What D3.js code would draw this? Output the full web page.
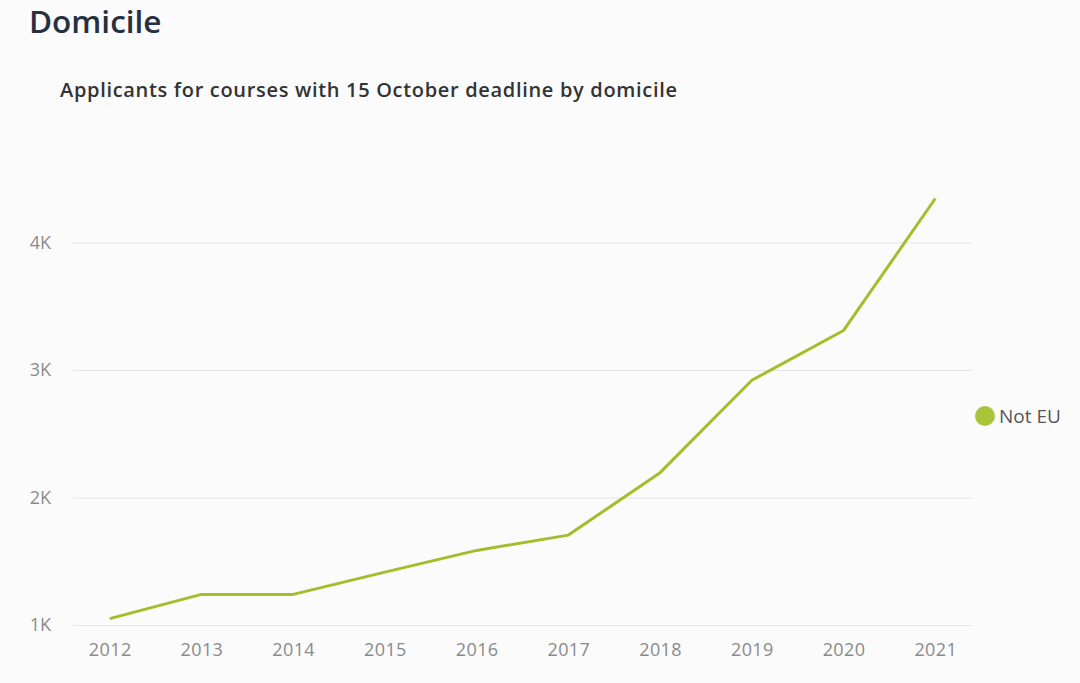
<!DOCTYPE html>
<html><head><meta charset="utf-8">
<script src="https://cdn.jsdelivr.net/npm/d3@7"></script>
<style>
html,body{margin:0;padding:0;background:#fbfbfc;}
svg{display:block;}
</style></head>
<body>
<svg id="chart" width="1080" height="683"></svg>
<script>
const years = [2012,2013,2014,2015,2016,2017,2018,2019,2020,2021];
const notEU = [1050,1240,1240,1415,1585,1705,2195,2920,3310,4345];
const yTicks = [1000,2000,3000,4000];
const seriesName = "Not EU";
const title = "Domicile";
const subtitle = "Applicants for courses with 15 October deadline by domicile";

const FONT = "'Open Sans', 'Noto Sans', sans-serif";
const svg = d3.select("#chart");
svg.append("rect").attr("width",1080).attr("height",683).attr("fill","#fbfbfc");

const x = d3.scalePoint().domain(years).range([73,972]).padding(0.4);
const y = d3.scaleLinear().domain([1000,4000]).range([625,242.5]);

svg.append("text").attr("x",29).attr("y",33)
  .attr("font-family",FONT).attr("font-weight",600)
  .attr("font-size",31.5).attr("fill","#263040").text(title);
svg.append("text").attr("x",60).attr("y",97)
  .attr("font-family",FONT).attr("font-weight",600)
  .attr("font-size",20).attr("letter-spacing",0.68).attr("fill","#333").text(subtitle);

// grid
const yAxis = d3.axisLeft(y).tickValues(yTicks).tickSize(-(972-73)).tickPadding(22)
  .tickFormat(d => d3.format("~s")(d).replace("k","K"));
const gy = svg.append("g").attr("transform","translate(73,0)").call(yAxis);
gy.select(".domain").remove();
gy.selectAll(".tick line").attr("stroke","#e6e6e8").attr("stroke-width",1.2);
gy.selectAll(".tick text").attr("font-family",FONT)
  .attr("font-size",18).attr("fill","#8a8a8a");

const xAxis = d3.axisBottom(x).tickSize(0).tickPadding(18);
const gx = svg.append("g").attr("transform","translate(0,625)").call(xAxis);
gx.select(".domain").remove();
gx.selectAll(".tick text").attr("font-family",FONT)
  .attr("font-size",18).attr("letter-spacing",0.4).attr("fill","#8a8a8a");

const line = d3.line().x((d,i)=>x(years[i])).y(d=>y(d));
svg.append("path").datum(notEU).attr("d",line).attr("fill","none")
  .attr("stroke","#a4bd2a").attr("stroke-width",3).attr("stroke-linejoin","round");

// legend
svg.append("circle").attr("cx",985).attr("cy",416).attr("r",10).attr("fill","#a9c43a");
svg.append("text").attr("x",999).attr("y",423)
  .attr("font-family",FONT)
  .attr("font-size",19).attr("fill","#555").text(seriesName);
</script>
</body></html>
